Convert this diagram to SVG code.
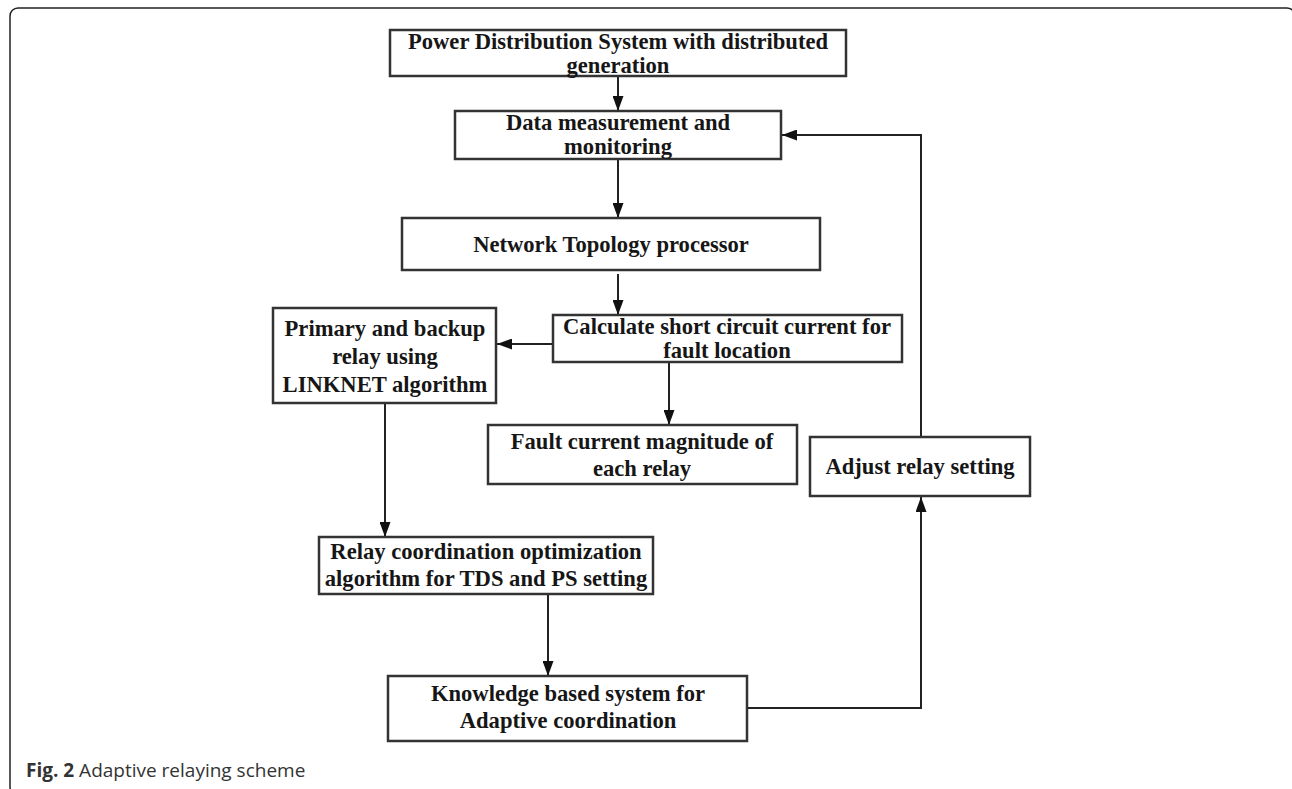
<svg xmlns="http://www.w3.org/2000/svg" width="1292" height="789" viewBox="0 0 1292 789">
  <style>
    .box { fill: #ffffff; stroke: #333333; stroke-width: 2.5; }
    .lbl { font-family: "Liberation Serif", "Times New Roman", serif; font-weight: bold; font-size: 22.6px; fill: #161616; text-anchor: middle; }
    .wire { fill: none; stroke: #222222; stroke-width: 2; }
    .cap { font-family: "Open Sans", "Noto Sans", sans-serif; font-size: 19px; fill: #333333; }
  </style>
  <defs>
    <marker id="arrow" viewBox="0 0 15 11" refX="15" refY="5.5" markerWidth="15" markerHeight="11" markerUnits="userSpaceOnUse" orient="auto">
      <path d="M0,0 L15,5.5 L0,11 Z" fill="#111111"/>
    </marker>
  </defs>

  <rect width="1292" height="789" fill="#ffffff"/>
  <!-- figure frame -->
  <rect x="10" y="8" width="1285" height="787" rx="8" ry="8" fill="none" stroke="#222222" stroke-width="1.5"/>

  <!-- connectors -->
  <g id="connectors">
    <line class="wire" x1="618" y1="76" x2="618" y2="111" marker-end="url(#arrow)"/>
    <line class="wire" x1="618" y1="159" x2="618" y2="218" marker-end="url(#arrow)"/>
    <line class="wire" x1="618" y1="274" x2="618" y2="315" marker-end="url(#arrow)"/>
    <line class="wire" x1="553" y1="344" x2="497" y2="344" marker-end="url(#arrow)"/>
    <line class="wire" x1="669" y1="362" x2="669" y2="425" marker-end="url(#arrow)"/>
    <line class="wire" x1="385" y1="403" x2="385" y2="537" marker-end="url(#arrow)"/>
    <line class="wire" x1="548" y1="594" x2="548" y2="676" marker-end="url(#arrow)"/>
    <polyline class="wire" points="747,708 921,708 921,497" marker-end="url(#arrow)"/>
    <polyline class="wire" points="921,437 921,135 782,135" marker-end="url(#arrow)"/>
  </g>

  <g id="power-distribution">
    <rect class="box" x="390" y="30" width="456" height="46"/>
    <text class="lbl" x="618" y="49">Power Distribution System with distributed</text>
    <text class="lbl" x="618" y="73">generation</text>
  </g>

  <g id="data-measurement">
    <rect class="box" x="455" y="111" width="326" height="48"/>
    <text class="lbl" x="618" y="130">Data measurement and</text>
    <text class="lbl" x="618" y="154">monitoring</text>
  </g>

  <g id="network-topology">
    <rect class="box" x="402" y="218" width="418" height="52"/>
    <text class="lbl" x="611" y="252">Network Topology processor</text>
  </g>

  <g id="short-circuit">
    <rect class="box" x="553" y="315" width="349" height="47"/>
    <text class="lbl" x="727" y="334">Calculate short circuit current for</text>
    <text class="lbl" x="727" y="358">fault location</text>
  </g>

  <g id="primary-backup">
    <rect class="box" x="273" y="308" width="223" height="95"/>
    <text class="lbl" x="385" y="336">Primary and backup</text>
    <text class="lbl" x="385" y="364">relay using</text>
    <text class="lbl" x="385" y="392">LINKNET algorithm</text>
  </g>

  <g id="fault-current">
    <rect class="box" x="488" y="425" width="309" height="59"/>
    <text class="lbl" x="642" y="449">Fault current magnitude of</text>
    <text class="lbl" x="642" y="476">each relay</text>
  </g>

  <g id="adjust-relay">
    <rect class="box" x="810" y="437" width="220" height="59"/>
    <text class="lbl" x="920" y="474">Adjust relay setting</text>
  </g>

  <g id="relay-coordination">
    <rect class="box" x="319" y="537" width="334" height="57"/>
    <text class="lbl" x="486" y="559">Relay coordination optimization</text>
    <text class="lbl" x="486" y="586">algorithm for TDS and PS setting</text>
  </g>

  <g id="knowledge-based">
    <rect class="box" x="388" y="676" width="359" height="65"/>
    <text class="lbl" x="568" y="701">Knowledge based system for</text>
    <text class="lbl" x="568" y="728">Adaptive coordination</text>
  </g>

  <text class="cap" x="26" y="777"><tspan font-weight="bold">Fig. 2</tspan> Adaptive relaying scheme</text>
</svg>
